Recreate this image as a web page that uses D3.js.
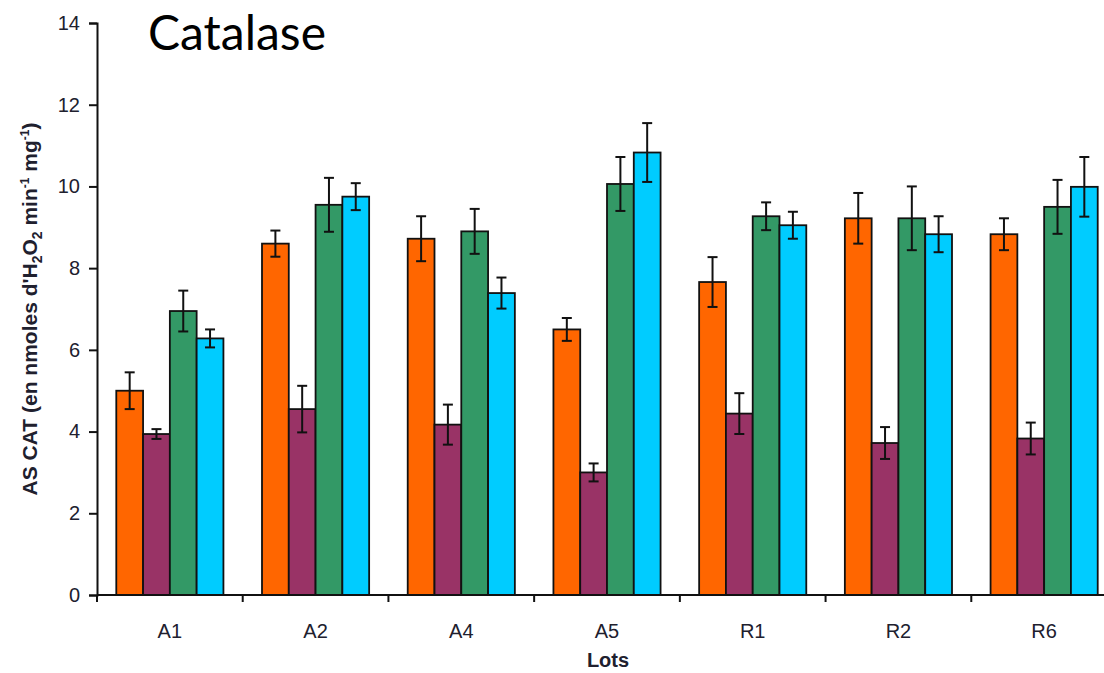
<!DOCTYPE html>
<html>
<head>
<meta charset="utf-8">
<script src="https://cdn.jsdelivr.net/npm/d3@7"></script>
<style>
  html, body { margin: 0; padding: 0; background: #fff; }
  svg { display: block; }
</style>
</head>
<body>
<svg id="chart" width="1104" height="673"></svg>
<script>
// Catalase activity per lot, four treatments per lot
const lots = ["A1", "A2", "A4", "A5", "R1", "R2", "R6"];
const series = ["s1", "s2", "s3", "s4"];
const colors = ["#FF6600", "#993366", "#339966", "#00CCFF"];

const valuesS1 = [5.00, 8.60, 8.72, 6.50, 7.66, 9.22, 8.83];
const valuesS2 = [3.94, 4.55, 4.17, 3.00, 4.44, 3.72, 3.83];
const valuesS3 = [6.95, 9.55, 8.90, 10.06, 9.27, 9.22, 9.50];
const valuesS4 = [6.28, 9.75, 7.39, 10.83, 9.05, 8.83, 9.99];

const errS1 = [0.45, 0.32, 0.55, 0.28, 0.61, 0.62, 0.39];
const errS2 = [0.12, 0.57, 0.49, 0.22, 0.50, 0.39, 0.39];
const errS3 = [0.50, 0.66, 0.55, 0.66, 0.34, 0.78, 0.66];
const errS4 = [0.22, 0.33, 0.38, 0.72, 0.33, 0.44, 0.73];

const yTicks = [0, 2, 4, 6, 8, 10, 12, 14];

const allValues = [valuesS1, valuesS2, valuesS3, valuesS4];
const allErrors = [errS1, errS2, errS3, errS4];

const svg = d3.select("#chart");
const textColor = "#20202e";
const axisFont = "Liberation Sans, Arial, sans-serif";

const x0 = 97, x1 = 1117, yBottom = 595, yTop = 23;

const x = d3.scaleBand().domain(lots).range([x0, x1]).paddingInner(0).paddingOuter(0);
const xInner = d3.scaleBand().domain(series).range([0, x.bandwidth()]).paddingInner(0).paddingOuter(0.72);
const y = d3.scaleLinear().domain([0, 14]).range([yBottom, yTop]);

// bars
const rows = [];
lots.forEach((lot, i) => {
  series.forEach((s, j) => {
    rows.push({ lot, s, j, v: allValues[j][i], e: allErrors[j][i] });
  });
});

const g = svg.append("g");

g.selectAll("rect.bar")
  .data(rows)
  .enter().append("rect")
  .attr("class", "bar")
  .attr("x", d => x(d.lot) + xInner(d.s))
  .attr("y", d => y(d.v))
  .attr("width", xInner.bandwidth())
  .attr("height", d => y(0) - y(d.v))
  .attr("fill", d => colors[d.j])
  .attr("stroke", "#111")
  .attr("stroke-width", 1.8);

// error bars
const eb = g.selectAll("g.err").data(rows).enter().append("g")
  .attr("class", "err")
  .attr("stroke", "#111")
  .attr("stroke-width", 2);
const cx = d => x(d.lot) + xInner(d.s) + xInner.bandwidth() / 2;
eb.append("line")
  .attr("x1", cx).attr("x2", cx)
  .attr("y1", d => y(d.v + d.e)).attr("y2", d => y(d.v - d.e));
eb.append("line")
  .attr("x1", d => cx(d) - 5).attr("x2", d => cx(d) + 5)
  .attr("y1", d => y(d.v + d.e)).attr("y2", d => y(d.v + d.e));
eb.append("line")
  .attr("x1", d => cx(d) - 5).attr("x2", d => cx(d) + 5)
  .attr("y1", d => y(d.v - d.e)).attr("y2", d => y(d.v - d.e));

// y axis
const yAxis = svg.append("g")
  .attr("transform", `translate(${x0},0)`)
  .call(d3.axisLeft(y).tickValues(yTicks).tickSize(8).tickPadding(9).tickFormat(d3.format("d")));
yAxis.select(".domain").attr("stroke", "#111").attr("stroke-width", 2);
yAxis.selectAll(".tick line").attr("stroke", "#111").attr("stroke-width", 2);
yAxis.selectAll(".tick text")
  .attr("font-family", axisFont)
  .attr("font-size", 20)
  .attr("fill", textColor);

// x axis: baseline with ticks on category boundaries
const xAxis = svg.append("g").attr("transform", `translate(0,${yBottom})`);
xAxis.append("line").attr("x1", x0).attr("x2", x1).attr("y1", 0).attr("y2", 0)
  .attr("stroke", "#111").attr("stroke-width", 2);
const bounds = lots.map(l => x(l)).concat([x1]);
xAxis.selectAll("line.tk").data(bounds).enter().append("line")
  .attr("class", "tk")
  .attr("x1", d => d).attr("x2", d => d)
  .attr("y1", 0).attr("y2", 7)
  .attr("stroke", "#111").attr("stroke-width", 2);
xAxis.selectAll("text").data(lots).enter().append("text")
  .attr("x", d => x(d) + x.bandwidth() / 2)
  .attr("y", 43)
  .attr("text-anchor", "middle")
  .attr("font-family", axisFont)
  .attr("font-size", 20)
  .attr("fill", textColor)
  .text(d => d);

// axis titles
svg.append("text")
  .attr("x", 608).attr("y", 667)
  .attr("text-anchor", "middle")
  .attr("font-family", axisFont)
  .attr("font-weight", "bold")
  .attr("font-size", 20)
  .attr("fill", textColor)
  .text("Lots");

const yt = svg.append("text")
  .attr("transform", "translate(37,309) rotate(-90)")
  .attr("text-anchor", "middle")
  .attr("font-family", axisFont)
  .attr("font-weight", "bold")
  .attr("font-size", 21)
  .attr("fill", textColor);
yt.append("tspan").text("AS CAT (en nmoles d'H");
yt.append("tspan").attr("font-size", 14).attr("dy", 5).text("2");
yt.append("tspan").attr("dy", -5).text("O");
yt.append("tspan").attr("font-size", 14).attr("dy", 5).text("2");
yt.append("tspan").attr("dy", -5).text(" min");
yt.append("tspan").attr("font-size", 12).attr("dy", -8).text("-1");
yt.append("tspan").attr("dy", 8).text(" mg");
yt.append("tspan").attr("font-size", 12).attr("dy", -8).text("-1");
yt.append("tspan").attr("dy", 8).text(")");

// chart title
svg.append("text")
  .attr("x", 148).attr("y", 50)
  .attr("font-family", "Lato, 'Open Sans', sans-serif")
  .attr("font-size", 48)
  .attr("fill", "#000")
  .text("Catalase");
</script>
</body>
</html>
